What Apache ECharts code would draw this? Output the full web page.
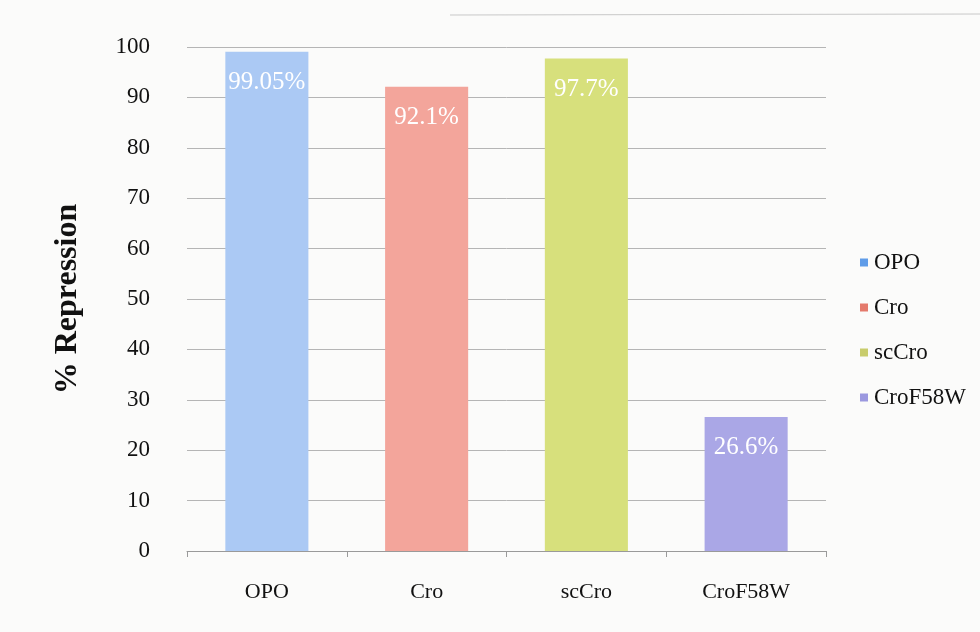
<!DOCTYPE html>
<html>
<head>
<meta charset="utf-8">
<script src="https://cdn.jsdelivr.net/npm/echarts@6/dist/echarts.min.js"></script>
<style>
  html, body { margin: 0; padding: 0; background: #fbfbfa; }
  #chart { width: 980px; height: 632px; }
</style>
</head>
<body>
<div id="chart"></div>
<script>
// Constructs and their measured repression
const categories = ['OPO', 'Cro', 'scCro', 'CroF58W'];
const repression = [99.05, 92.1, 97.7, 26.6];
const valueLabels = ['99.05%', '92.1%', '97.7%', '26.6%'];
const barColors = ['#abc9f4', '#f3a59b', '#d7e07c', '#aaa7e6'];
const legendColors = ['#5f9ce8', '#e47a6c', '#c8cc6c', '#9b98df'];

const serif = '"Liberation Serif", "DejaVu Serif", serif';

// One series per construct so the legend lists each; stacking keeps bars centred
const series = categories.map((name, i) => ({
  name: name,
  type: 'bar',
  stack: 'all',
  barWidth: '52%',
  data: categories.map((_, j) => (j === i ? repression[i] : null)),
  itemStyle: { color: barColors[i] },
  label: {
    show: true,
    position: 'insideTop',
    distance: 18,
    color: '#ffffff',
    fontFamily: serif,
    fontSize: 25,
    formatter: () => valueLabels[i]
  }
}));

const chart = echarts.init(document.getElementById('chart'));
chart.setOption({
  backgroundColor: '#fbfbfa',
  animation: false,
  grid: { left: 187, right: 154, top: 47, bottom: 81 },
  legend: {
    orient: 'vertical',
    left: 855,
    top: 246,
    itemGap: 22,
    itemWidth: 8,
    itemHeight: 8,
    icon: 'rect',
    textStyle: { fontFamily: serif, fontSize: 23, color: '#111', padding: [0, 0, 0, 1] },
    data: categories.map((name, i) => ({ name: name, itemStyle: { color: legendColors[i] } }))
  },
  xAxis: {
    type: 'category',
    data: categories,
    axisLine: { show: true, lineStyle: { color: '#9a9a9a', width: 1 } },
    axisTick: { show: true, alignWithLabel: false, length: 6, lineStyle: { color: '#9a9a9a' } },
    axisLabel: { fontFamily: serif, fontSize: 22, color: '#111', margin: 30 }
  },
  yAxis: {
    type: 'value',
    min: 0,
    max: 100,
    interval: 10,
    name: '% Repression',
    nameLocation: 'middle',
    nameGap: 103,
    nameTextStyle: { fontFamily: serif, fontSize: 32, fontWeight: 'bold', color: '#111' },
    axisLine: { show: false },
    axisTick: { show: false },
    axisLabel: { fontFamily: serif, fontSize: 23, color: '#111', margin: 37 },
    splitLine: { lineStyle: { color: '#b5b5b5', width: 1 } }
  },
  graphic: [{
    type: 'line',
    shape: { x1: 450, y1: 15, x2: 980, y2: 14 },
    style: { stroke: '#c8c8c8', lineWidth: 1 }
  }],
  series: series
});
</script>
</body>
</html>
